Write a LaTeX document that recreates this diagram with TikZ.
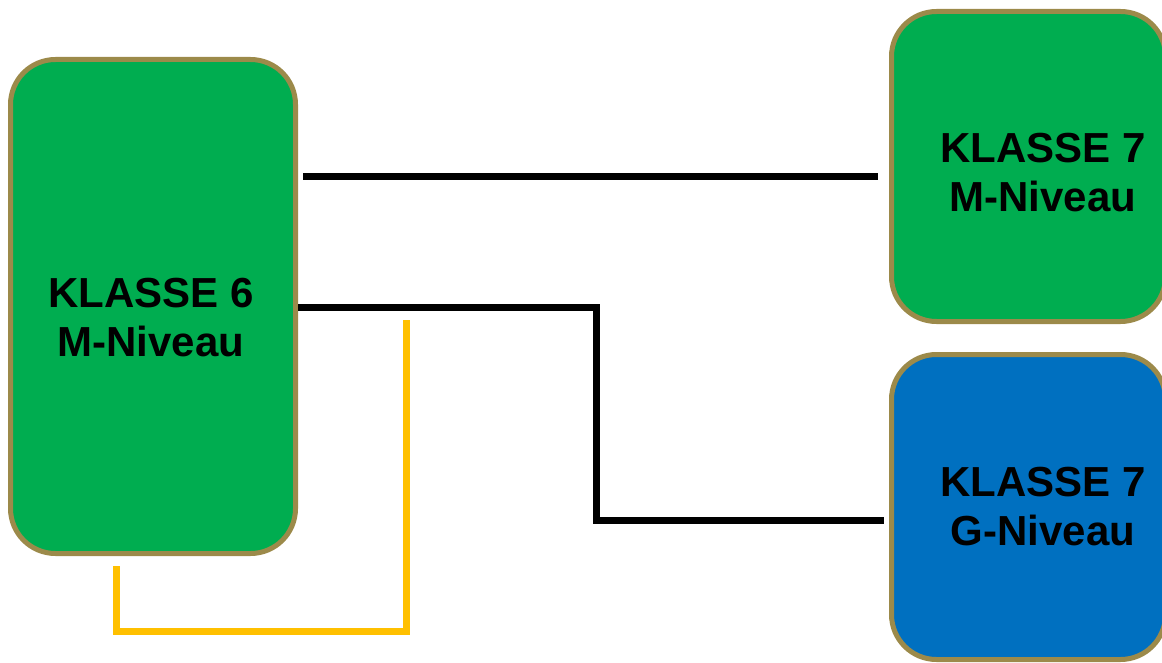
\documentclass[tikz,border=0pt]{standalone}
\usepackage{fontspec}
\setmainfont{Liberation Sans}
\definecolor{boxgreen}{RGB}{0,173,80}
\definecolor{boxblue}{RGB}{0,112,192}
\definecolor{boxedge}{RGB}{156,138,74}
\definecolor{lineyellow}{RGB}{255,192,0}
\begin{document}
\begin{tikzpicture}[x=1pt,y=-1pt,
  klbox/.style={draw=boxedge,line width=5pt,rounded corners=45pt,inner sep=0pt},
  kltext/.style={font=\fontsize{42}{49}\selectfont\bfseries,align=center,inner sep=0pt},
  blackline/.style={line width=7pt,black},
  yellowline/.style={line width=7pt,lineyellow}]
\useasboundingbox (0,0) rectangle (1162,663);
\node[klbox,fill=boxgreen,minimum width=285pt,minimum height=494pt] (k6) at (153,306.5) {};
\node[klbox,fill=boxgreen,minimum width=274pt,minimum height=310pt] (k7m) at (1028.5,166.5) {};
\node[klbox,fill=boxblue,minimum width=274pt,minimum height=305pt] (k7g) at (1028.5,507) {};
\node[kltext] (t6) at (151,317.5) {KLASSE 6\\M-Niveau};
\node[kltext] (t7m) at (1043,172.5) {KLASSE 7\\M-Niveau};
\node[kltext] (t7g) at (1043,506.5) {KLASSE 7\\G-Niveau};
\coordinate (a1) at (303,177);
\coordinate (a2) at (878,177);
\coordinate (b1) at (298,307);
\coordinate (b2) at (596,307);
\coordinate (b3) at (596,520);
\coordinate (b4) at (884,520);
\coordinate (c1) at (406,320);
\coordinate (c2) at (406,631);
\coordinate (c3) at (116,631);
\coordinate (c4) at (116,566);
\draw[blackline] (a1) -- (a2);
\draw[blackline] (b1) -- (b2) -- (b3) -- (b4);
\draw[yellowline] (c1) -- (c2) -- (c3) -- (c4);
\end{tikzpicture}
\end{document}
